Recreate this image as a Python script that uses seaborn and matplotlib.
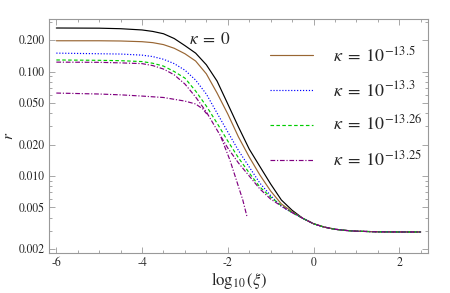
import matplotlib
matplotlib.use("Agg")
import matplotlib.pyplot as plt
import seaborn as sns
from matplotlib.ticker import (FixedLocator, FormatStrFormatter, MultipleLocator,
                               LogLocator, NullFormatter)

# shared x grid, log10(xi)
x_grid = [-6, -5, -4.5, -4, -3.75, -3.5, -3.25, -3, -2.75, -2.5, -2.25, -2,
          -1.75, -1.5, -1.25, -1, -0.75, -0.5, -0.25, 0, 0.25, 0.5, 0.75, 1,
          1.5, 2, 2.5]

# common tail where all curves merge (x >= -0.25)
tail = [0.00393, 0.00349, 0.00324, 0.00309, 0.00301, 0.00296, 0.00292,
        0.00291, 0.00291]

r_k0 = [0.261, 0.260, 0.257, 0.250, 0.242, 0.230, 0.207, 0.177, 0.150, 0.116,
        0.081, 0.0489, 0.0294, 0.0181, 0.0123, 0.00838, 0.00589, 0.00470] + tail
r_k135 = [0.197, 0.197, 0.196, 0.193, 0.189, 0.181, 0.167, 0.148, 0.126, 0.095,
          0.0622, 0.0392, 0.0236, 0.0152, 0.0102, 0.00718, 0.00540, 0.00455] + tail
r_k133 = [0.150, 0.148, 0.147, 0.1435, 0.139, 0.131, 0.119, 0.103, 0.0828,
          0.0608, 0.0400, 0.0264, 0.0175, 0.0122, 0.00853, 0.00650, 0.00512,
          0.00446] + tail
r_k1326 = [0.129, 0.128, 0.127, 0.1245, 0.120, 0.1127, 0.100, 0.0865, 0.0650,
           0.0467, 0.0320, 0.0216, 0.0149, 0.0107, 0.00783, 0.00629, 0.00520,
           0.00446] + tail
r_k1325 = [0.123, 0.1225, 0.121, 0.119, 0.114, 0.1056, 0.093, 0.0759, 0.0570,
           0.0410, 0.0275, 0.0185, 0.0133, 0.0100, 0.00750, 0.00601, 0.00515,
           0.00446] + tail

# lower branch of kappa = 10^-13.25 (two pieces, gap between)
x_low_a = [-6, -5, -4.5, -4, -3.5, -3, -2.75, -2.58, -2.49]
r_low_a = [0.0622, 0.0609, 0.0598, 0.0582, 0.0564, 0.0521, 0.0489, 0.0437, 0.0392]
x_low_b = [-2.16, -1.95, -1.75, -1.65, -1.55]
r_low_b = [0.0236, 0.0142, 0.0079, 0.00589, 0.00405]

y_ticks = [0.002, 0.005, 0.010, 0.020, 0.050, 0.100, 0.200]

sns.set_style("ticks")
plt.rcParams["font.family"] = ["STIXGeneral", "DejaVu Serif"]
plt.rcParams["mathtext.fontset"] = "stix"

fig, ax = plt.subplots(figsize=(4.5, 2.93), dpi=100)
fig.subplots_adjust(left=0.109, right=0.951, top=0.935, bottom=0.1365)

brown = "#996633"
purple = "#800080"
lw = 0.85
dashdot = (0, (4, 1.5, 1, 1.5))

sns.lineplot(x=x_grid, y=r_k0, ax=ax, color="black", lw=lw)
sns.lineplot(x=x_grid, y=r_k135, ax=ax, color=brown, lw=lw,
             label=r"$\kappa \;=\; 10^{-13.5}$")
sns.lineplot(x=x_grid, y=r_k133, ax=ax, color="#0000ff", lw=lw,
             linestyle=(0, (1, 1.5)), label=r"$\kappa \;=\; 10^{-13.3}$")
sns.lineplot(x=x_grid, y=r_k1326, ax=ax, color="#00cc00", lw=lw,
             linestyle=(0, (3, 2)), label=r"$\kappa \;=\; 10^{-13.26}$")
sns.lineplot(x=x_grid, y=r_k1325, ax=ax, color=purple, lw=lw,
             linestyle=dashdot, label=r"$\kappa \;=\; 10^{-13.25}$")
sns.lineplot(x=x_low_a, y=r_low_a, ax=ax, color=purple, lw=lw, linestyle=dashdot)
sns.lineplot(x=x_low_b, y=r_low_b, ax=ax, color=purple, lw=lw, linestyle=dashdot)

ax.text(-2.42, 0.2, r"$\kappa \;=\; 0$", ha="center", va="center", fontsize=12.5)

ax.set_yscale("log")
ax.set_xlim(-6.17, 2.67)
ax.set_ylim(0.00183, 0.318)
ax.yaxis.set_major_locator(FixedLocator(y_ticks))
ax.yaxis.set_major_formatter(FormatStrFormatter("%.3f"))
ax.yaxis.set_minor_locator(LogLocator(base=10, subs=range(1, 10)))
ax.yaxis.set_minor_formatter(NullFormatter())
ax.xaxis.set_major_locator(MultipleLocator(2))
ax.xaxis.set_minor_locator(MultipleLocator(0.5))
ax.xaxis.set_major_formatter(FormatStrFormatter("%d"))

ax.tick_params(which="both", direction="in", top=True, right=True,
               color="#999999", width=0.6, labelsize=8.5, pad=3)
ax.tick_params(which="major", length=4)
ax.tick_params(which="minor", length=2)
for s in ax.spines.values():
    s.set_color("#999999")
    s.set_linewidth(0.8)

ax.set_xlabel(r"$\log_{10}(\xi)$", fontsize=12, labelpad=1)
ax.set_ylabel(r"$r$", fontsize=11, labelpad=2)

ax.legend(loc="upper left", bbox_to_anchor=(0.583, 0.887), frameon=False,
          fontsize=13, handlelength=2.4, handletextpad=1.1, labelspacing=0.82,
          borderpad=0, borderaxespad=0)

fig.savefig("out.png", dpi=100)
